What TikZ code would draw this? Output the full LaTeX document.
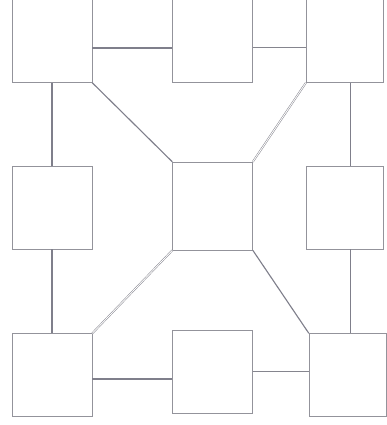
\documentclass[tikz,border=0pt]{standalone}
\usepackage{xcolor}
\definecolor{pencil}{RGB}{120,120,130}
\definecolor{pencildark}{RGB}{95,95,110}
\usepackage{tikz}
\usetikzlibrary{positioning}
\tikzset{
  panel/.style={
    rectangle, draw=pencil!80, line width=0.8pt,
    minimum width=4cm, minimum height=4.15cm, inner sep=0pt},
  npanel/.style={panel, minimum width=3.85cm},
  hub/.style={panel, minimum height=4.4cm},
  link/.style={draw=pencildark!80, line width=2.2pt},
  dlink/.style={draw=pencil!90, line width=0.7pt, double=white, double distance=1.2pt},
}

\begin{document}
\begin{tikzpicture}
  \useasboundingbox (0,0) rectangle (19.3,-21.25);
  % top row
  \node[panel] (topl) at (2.6,-2.05) {};
  \node[panel, right=4cm of topl] (topm) {};
  \node[npanel, right=2.65cm of topm] (topr) {};
  % middle row
  \node[panel, below=4.15cm of topl] (midl) {};
  \node[hub, below=3.95cm of topm] (hub) {};
  \node[npanel, below=4.15cm of topr] (midr) {};
  % bottom row
  \node[panel, below=4.2cm of midl] (botl) {};
  \node[panel, below=4cm of hub] (botm) {};
  \node[npanel, below=4.2cm of midr, xshift=0.15cm] (botr) {};
  % horizontal links
  \draw[link] ([yshift=-3.5mm]topl.east) -- ([yshift=-3.5mm]topm.west);
  \draw[dlink] ([yshift=-2.8mm]topm.east) -- ([yshift=-2.8mm]topr.west);
  \draw[link] ([yshift=-1.8mm]botl.east) -- ([yshift=-1.8mm]botl.east -| botm.west);
  \draw[dlink] (botm.east) -- (botm.east -| botr.west);
  % vertical links
  \draw[link] (topl) -- (midl);
  \draw[link] (midl) -- (botl);
  \draw[link] ([xshift=3mm]topr.south) -- ([xshift=3mm]midr.north);
  \draw[link] ([xshift=3mm]midr.south) -- ([xshift=3mm]midr.south |- botr.north);
  % diagonals to the hub
  \draw[link, line width=1.6pt] (topl.south east) -- (hub.north west);
  \draw[dlink] (topr.south west) -- (hub.north east);
  \draw[dlink] (hub.south west) -- (botl.north east);
  \draw[link, line width=1.6pt] (hub.south east) -- (botr.north west);
\end{tikzpicture}
\end{document}
